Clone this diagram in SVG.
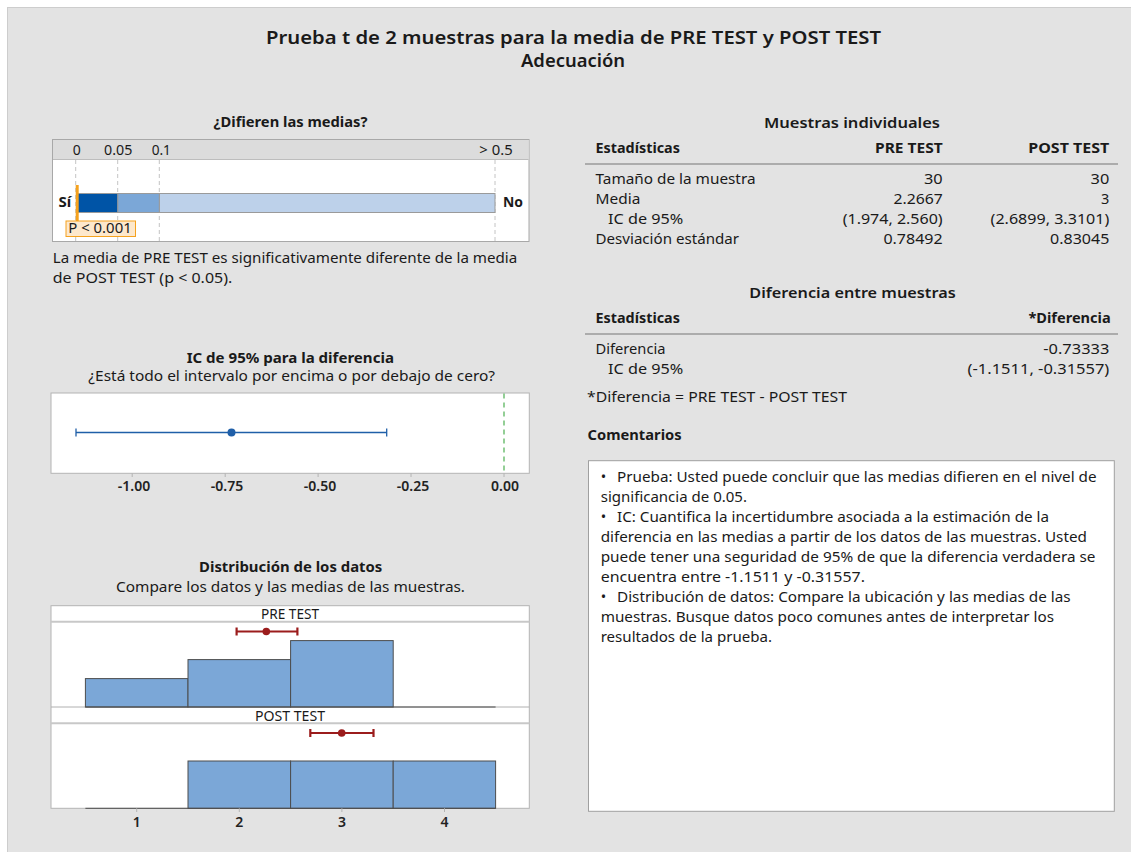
<svg xmlns="http://www.w3.org/2000/svg" width="1131" height="852" viewBox="0 0 1131 852">
<style>
text{font-family:"Noto Sans","Open Sans","Liberation Sans",sans-serif;fill:#1a1a1a;font-size:14.5px}
.b{font-weight:700}
.sb{font-weight:600}
.m{text-anchor:middle}
.e{text-anchor:end}
.tick{font-size:14px;font-weight:600;text-anchor:middle;fill:#222}
.bar{stroke:#4d4d4d;stroke-width:1;fill:#7ba7d7}
.red{stroke:#9b1c1c;stroke-width:2.2;fill:none}
.panel{fill:#fff;stroke:#b4b4b4;stroke-width:1}
.grid{stroke:#c4c4c4;stroke-width:1;stroke-dasharray:4 3}
.hline{stroke:#9a9a9a;stroke-width:1.5}
</style>
<rect x="0" y="0" width="1131" height="852" fill="#fff"/>
<rect x="7.5" y="7.5" width="1130" height="850" fill="#e3e3e3" stroke="#cdcdcd"/>

<g id="title">
<text class="sb m" x="573.5" y="43.5" style="font-size:18px" textLength="615" lengthAdjust="spacingAndGlyphs">Prueba t de 2 muestras para la media de PRE TEST y POST TEST</text>
<text class="sb m" x="573" y="67" style="font-size:18px" textLength="104" lengthAdjust="spacingAndGlyphs">Adecuación</text>
</g>

<g id="pvalue">
<text class="b m" x="290.5" y="127" style="font-size:14.5px" textLength="154" lengthAdjust="spacingAndGlyphs">¿Difieren las medias?</text>
<rect x="52.5" y="139.5" width="476.5" height="102" fill="#fff" stroke="#a8a8a8"/>
<rect x="53" y="140" width="475.5" height="19" fill="#dcdcdc"/>
<line x1="53" y1="159.5" x2="528.5" y2="159.5" stroke="#bdbdbd"/>
<text class="m" x="76.7" y="155" style="font-size:14px">0</text>
<text class="m" x="118.2" y="155" style="font-size:14px" textLength="28.3" lengthAdjust="spacingAndGlyphs">0.05</text>
<text class="m" x="161.3" y="155" style="font-size:14px" textLength="19.3" lengthAdjust="spacingAndGlyphs">0.1</text>
<text class="m" x="496" y="155" style="font-size:14px" textLength="33.3" lengthAdjust="spacingAndGlyphs">&gt; 0.5</text>
<line class="grid" x1="75.7" y1="160" x2="75.7" y2="241"/>
<line class="grid" x1="117.7" y1="160" x2="117.7" y2="241"/>
<line class="grid" x1="159.3" y1="160" x2="159.3" y2="241"/>
<line class="grid" x1="495" y1="160" x2="495" y2="241"/>
<rect x="159.3" y="193.5" width="335.7" height="19" fill="#bdd1ea" stroke="#9a9a9a"/>
<rect x="117.7" y="193.5" width="41.6" height="19" fill="#7ba7d7" stroke="#9a9a9a"/>
<rect x="76.7" y="193.5" width="41" height="19" fill="#0054a6" stroke="#9a9a9a"/>
<text class="b" x="58.5" y="206.5" style="font-size:15px">Sí</text>
<text class="b" x="503" y="206.5" style="font-size:15px" textLength="20" lengthAdjust="spacingAndGlyphs">No</text>
<line x1="77.2" y1="185" x2="77.2" y2="221" stroke="#f5a21e" stroke-width="3"/>
<rect x="66" y="221" width="69.5" height="15.5" fill="#fde8cc" stroke="#f5a21e"/>
<text x="68.3" y="232.5" style="font-size:13.5px" textLength="63.4" lengthAdjust="spacingAndGlyphs">P &lt; 0.001</text>
<text x="52.7" y="262.7" textLength="464.6" lengthAdjust="spacingAndGlyphs">La media de PRE TEST es significativamente diferente de la media</text>
<text x="52.7" y="282.7" textLength="179.6" lengthAdjust="spacingAndGlyphs">de POST TEST (p &lt; 0.05).</text>
</g>

<g id="ci-plot">
<text class="b m" x="290.3" y="363" style="font-size:14.5px" textLength="207.3" lengthAdjust="spacingAndGlyphs">IC de 95% para la diferencia</text>
<text class="m" x="291.7" y="381" textLength="406.7" lengthAdjust="spacingAndGlyphs">¿Está todo el intervalo por encima o por debajo de cero?</text>
<rect class="panel" x="51" y="393" width="478.3" height="80.3"/>
<line x1="504" y1="393.5" x2="504" y2="473" stroke="#4caf50" stroke-width="1.2" stroke-dasharray="5 4"/>
<g stroke="#1f5fa8" stroke-width="1.3">
<line x1="76" y1="432.5" x2="386.7" y2="432.5"/>
<line x1="76" y1="428.5" x2="76" y2="436.5"/>
<line x1="386.7" y1="428.5" x2="386.7" y2="436.5"/>
</g>
<circle cx="231.5" cy="432.5" r="4" fill="#1f5fa8"/>
<g stroke="#b4b4b4">
<line x1="132.2" y1="473.3" x2="132.2" y2="477"/>
<line x1="225.2" y1="473.3" x2="225.2" y2="477"/>
<line x1="318.1" y1="473.3" x2="318.1" y2="477"/>
<line x1="411" y1="473.3" x2="411" y2="477"/>
<line x1="504" y1="473.3" x2="504" y2="477"/>
</g>
<text class="tick" x="134" y="490.5">-1.00</text>
<text class="tick" x="227" y="490.5">-0.75</text>
<text class="tick" x="320" y="490.5">-0.50</text>
<text class="tick" x="413" y="490.5">-0.25</text>
<text class="tick" x="505" y="490.5">0.00</text>
</g>

<g id="distribution">
<text class="b m" x="290.7" y="571.7" style="font-size:14.5px" textLength="183.3" lengthAdjust="spacingAndGlyphs">Distribución de los datos</text>
<text class="m" x="290.5" y="591.7" textLength="349" lengthAdjust="spacingAndGlyphs">Compare los datos y las medias de las muestras.</text>
<rect class="panel" x="51" y="605.7" width="478.3" height="202.6"/>
<line x1="51" y1="621.7" x2="529.3" y2="621.7" stroke="#c8c8c8" stroke-width="2"/>
<line x1="51" y1="707" x2="529.3" y2="707" stroke="#b0b0b0"/>
<line x1="51" y1="723.3" x2="529.3" y2="723.3" stroke="#c8c8c8" stroke-width="2"/>
<text class="m" x="290" y="619" style="font-size:13.5px" textLength="58" lengthAdjust="spacingAndGlyphs">PRE TEST</text>
<text class="m" x="290" y="720.5" style="font-size:13.5px" textLength="70" lengthAdjust="spacingAndGlyphs">POST TEST</text>
<rect class="bar" x="85.4" y="678.6" width="102.6" height="28.4"/>
<rect class="bar" x="188" y="659.6" width="102.6" height="47.4"/>
<rect class="bar" x="290.6" y="640.6" width="102.6" height="66.4"/>
<line x1="85.4" y1="707" x2="495.6" y2="707" stroke="#4d4d4d"/>
<rect class="bar" x="188" y="761" width="102.6" height="47.3"/>
<rect class="bar" x="290.6" y="761" width="102.6" height="47.3"/>
<rect class="bar" x="393.2" y="761" width="102.4" height="47.3"/>
<line x1="85.4" y1="808.3" x2="495.6" y2="808.3" stroke="#4d4d4d"/>
<g class="red">
<line x1="236.6" y1="631.5" x2="297.4" y2="631.5"/>
<line x1="236.6" y1="627.5" x2="236.6" y2="635.5"/>
<line x1="297.4" y1="627.5" x2="297.4" y2="635.5"/>
<line x1="310.3" y1="733" x2="373.5" y2="733"/>
<line x1="310.3" y1="729" x2="310.3" y2="737"/>
<line x1="373.5" y1="729" x2="373.5" y2="737"/>
</g>
<circle cx="266.3" cy="631.5" r="3.8" fill="#9b1c1c"/>
<circle cx="341.7" cy="733" r="3.8" fill="#9b1c1c"/>
<g stroke="#b4b4b4">
<line x1="136.7" y1="808.3" x2="136.7" y2="812"/>
<line x1="239.3" y1="808.3" x2="239.3" y2="812"/>
<line x1="341.9" y1="808.3" x2="341.9" y2="812"/>
<line x1="444.5" y1="808.3" x2="444.5" y2="812"/>
</g>
<text class="tick" x="136.7" y="827">1</text>
<text class="tick" x="239.3" y="827">2</text>
<text class="tick" x="341.9" y="827">3</text>
<text class="tick" x="444.5" y="827">4</text>
</g>

<g id="table-individual">
<text class="sb m" x="852" y="128.3" style="font-size:15px" textLength="176" lengthAdjust="spacingAndGlyphs">Muestras individuales</text>
<text class="b" x="595.5" y="153.3" textLength="84.4" lengthAdjust="spacingAndGlyphs">Estadísticas</text>
<text class="b e" x="942.7" y="153.3" textLength="67.7" lengthAdjust="spacingAndGlyphs">PRE TEST</text>
<text class="b e" x="1109.3" y="153.3" textLength="81" lengthAdjust="spacingAndGlyphs">POST TEST</text>
<line class="hline" x1="585" y1="164" x2="1118" y2="164"/>
<text x="595.5" y="184" textLength="160" lengthAdjust="spacingAndGlyphs">Tamaño de la muestra</text>
<text x="595.5" y="204" textLength="44.8" lengthAdjust="spacingAndGlyphs">Media</text>
<text x="608" y="224" textLength="75.3" lengthAdjust="spacingAndGlyphs">IC de 95%</text>
<text x="595.5" y="243.7" textLength="143.5" lengthAdjust="spacingAndGlyphs">Desviación estándar</text>
<text class="e" x="942.7" y="184" textLength="18.7" lengthAdjust="spacingAndGlyphs">30</text>
<text class="e" x="942.7" y="204" textLength="49.3" lengthAdjust="spacingAndGlyphs">2.2667</text>
<text class="e" x="942.7" y="224" textLength="100" lengthAdjust="spacingAndGlyphs">(1.974, 2.560)</text>
<text class="e" x="942.7" y="243.7" textLength="59.3" lengthAdjust="spacingAndGlyphs">0.78492</text>
<text class="e" x="1109.3" y="184" textLength="18.7" lengthAdjust="spacingAndGlyphs">30</text>
<text class="e" x="1109.3" y="204">3</text>
<text class="e" x="1109.3" y="224" textLength="118.7" lengthAdjust="spacingAndGlyphs">(2.6899, 3.3101)</text>
<text class="e" x="1109.3" y="243.7" textLength="59.3" lengthAdjust="spacingAndGlyphs">0.83045</text>
</g>

<g id="table-difference">
<text class="sb m" x="852.5" y="298.3" style="font-size:15px" textLength="206.4" lengthAdjust="spacingAndGlyphs">Diferencia entre muestras</text>
<text class="b" x="595.5" y="323.3" textLength="84.4" lengthAdjust="spacingAndGlyphs">Estadísticas</text>
<text class="b e" x="1110.7" y="323.3" textLength="82.3" lengthAdjust="spacingAndGlyphs">*Diferencia</text>
<line class="hline" x1="585" y1="334" x2="1118" y2="334"/>
<text x="595.5" y="354" textLength="70" lengthAdjust="spacingAndGlyphs">Diferencia</text>
<text x="608" y="373.7" textLength="75.3" lengthAdjust="spacingAndGlyphs">IC de 95%</text>
<text class="e" x="1109.3" y="354" textLength="66" lengthAdjust="spacingAndGlyphs">-0.73333</text>
<text class="e" x="1109.3" y="373.7" textLength="141.7" lengthAdjust="spacingAndGlyphs">(-1.1511, -0.31557)</text>
<text x="587" y="401.7" textLength="260" lengthAdjust="spacingAndGlyphs">*Diferencia = PRE TEST - POST TEST</text>
</g>

<g id="comments">
<text class="b" x="587.6" y="440" textLength="94" lengthAdjust="spacingAndGlyphs">Comentarios</text>
<rect x="588.5" y="460.7" width="525.8" height="350.6" fill="#fff" stroke="#a0a0a0"/>
<text x="600.7" y="482">•</text>
<text x="617" y="482" textLength="479.5" lengthAdjust="spacingAndGlyphs">Prueba: Usted puede concluir que las medias difieren en el nivel de</text>
<text x="600.7" y="502" textLength="146.3" lengthAdjust="spacingAndGlyphs">significancia de 0.05.</text>
<text x="600.7" y="522">•</text>
<text x="617" y="522" textLength="432" lengthAdjust="spacingAndGlyphs">IC: Cuantifica la incertidumbre asociada a la estimación de la</text>
<text x="600.7" y="542" textLength="486.2" lengthAdjust="spacingAndGlyphs">diferencia en las medias a partir de los datos de las muestras. Usted</text>
<text x="600.7" y="562" textLength="494.8" lengthAdjust="spacingAndGlyphs">puede tener una seguridad de 95% de que la diferencia verdadera se</text>
<text x="600.7" y="582" textLength="264.3" lengthAdjust="spacingAndGlyphs">encuentra entre -1.1511 y -0.31557.</text>
<text x="600.7" y="602">•</text>
<text x="617" y="602" textLength="453.7" lengthAdjust="spacingAndGlyphs">Distribución de datos: Compare la ubicación y las medias de las</text>
<text x="600.7" y="622" textLength="453.3" lengthAdjust="spacingAndGlyphs">muestras. Busque datos poco comunes antes de interpretar los</text>
<text x="600.7" y="642" textLength="171.3" lengthAdjust="spacingAndGlyphs">resultados de la prueba.</text>
</g>
</svg>
